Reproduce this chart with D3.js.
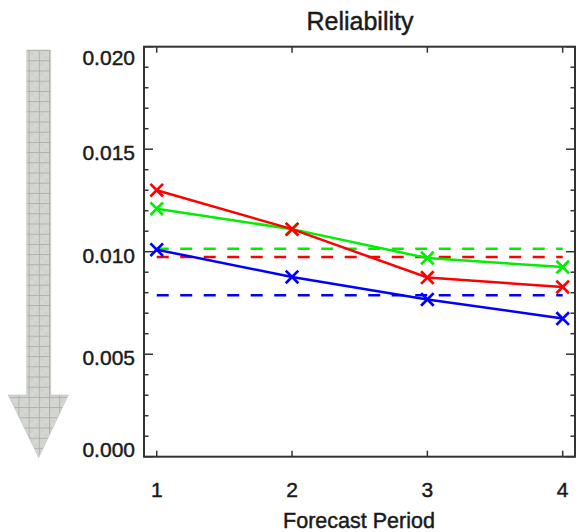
<!DOCTYPE html>
<html>
<head>
<meta charset="utf-8">
<script src="https://cdn.jsdelivr.net/npm/d3@7"></script>
<style>
  html, body { margin: 0; padding: 0; background: #ffffff; }
  svg { display: block; }
  text { font-family: "Liberation Sans", Arial, Helvetica, sans-serif; fill: #1a1a1a; stroke: #1a1a1a; stroke-width: 0.45px; }
</style>
</head>
<body>
<svg id="chart" width="577" height="532"></svg>
<script>
// ---- data ----
const periods = [1, 2, 3, 4];
const redValues = [0.0130, 0.0111, 0.00874, 0.00828];
const greenValues = [0.0121, 0.0111, 0.00969, 0.00925];
const blueValues = [0.0101, 0.00877, 0.00767, 0.00674];
const redReference = 0.00974;
const greenReference = 0.01015;
const blueReference = 0.00787;
const yTickValues = [0, 0.005, 0.010, 0.015, 0.020];
const yTickLabels = ["0.000", "0.005", "0.010", "0.015", "0.020"];
const xTickLabels = ["1", "2", "3", "4"];
const titleText = "Reliability";
const xAxisTitle = "Forecast Period";

const seriesList = [
  { name: "green", color: "#00ee00", values: greenValues, ref: greenReference },
  { name: "red", color: "#ff0000", values: redValues, ref: redReference },
  { name: "blue", color: "#0000ff", values: blueValues, ref: blueReference }
];

// ---- layout ----
const pLeft = 144, pRight = 575, pTop = 46.7, pBottom = 456.7;
const svg = d3.select("#chart");

const x = d3.scaleLinear().domain([0.906, 4.091]).range([pLeft, pRight]);
const y = d3.scaleLinear().domain([0, 0.02]).range([pBottom, pTop]);

// ---- decorative arrow ----
const defs = svg.append("defs");
const pat = defs.append("pattern")
  .attr("id", "grid").attr("patternUnits", "userSpaceOnUse")
  .attr("x", 38.8).attr("y", 386.7).attr("width", 10.2).attr("height", 10.2);
pat.append("rect").attr("width", 10.2).attr("height", 10.2).attr("fill", "#d5d7d2");
pat.append("rect").attr("x", 2).attr("y", 2).attr("width", 3).attr("height", 3).attr("fill", "#cfd1cc");
pat.append("rect").attr("x", 6).attr("y", 6).attr("width", 3).attr("height", 3).attr("fill", "#cfd1cc");
pat.append("line").attr("x1", 0.5).attr("x2", 0.5).attr("y1", 0).attr("y2", 10.2).attr("stroke", "#adafaa").attr("stroke-width", 1);
pat.append("line").attr("y1", 0.5).attr("y2", 0.5).attr("x1", 0).attr("x2", 10.2).attr("stroke", "#adafaa").attr("stroke-width", 1);

svg.append("path")
  .attr("d", "M26.7,50 L50.7,50 L50.7,395 L68.3,395 L38.7,457.7 L8.3,395 L26.7,395 Z")
  .attr("fill", "url(#grid)")
  .attr("stroke", "#c0c2bd").attr("stroke-width", 0.6);

// ---- title ----
svg.append("text").attr("x", 360).attr("y", 30).attr("text-anchor", "middle")
  .style("font-size", "25px").text(titleText);

// ---- reference dashed lines ----
seriesList.forEach(s => {
  svg.append("line")
    .attr("x1", x(periods[0])).attr("x2", x(periods[periods.length - 1]))
    .attr("y1", y(s.ref)).attr("y2", y(s.ref))
    .attr("stroke", s.color).attr("stroke-width", 2.5)
    .attr("stroke-dasharray", "12,11.5");
});

// ---- series lines and markers ----
const lineGen = d3.line().x((d, i) => x(periods[i])).y(d => y(d));
const ms = 6.3;
seriesList.forEach(s => {
  svg.append("path").attr("d", lineGen(s.values))
    .attr("fill", "none").attr("stroke", s.color).attr("stroke-width", 2.5);
  const g = svg.append("g");
  s.values.forEach((v, i) => {
    const cx = x(periods[i]), cy = y(v);
    g.append("path")
      .attr("d", `M${cx - ms},${cy - ms}L${cx + ms},${cy + ms}M${cx - ms},${cy + ms}L${cx + ms},${cy - ms}`)
      .attr("stroke", s.color).attr("stroke-width", 2.7).attr("fill", "none");
  });
});

// ---- frame and ticks ----
const axisColor = "#333333";
svg.append("rect").attr("x", pLeft).attr("y", pTop).attr("width", pRight - pLeft).attr("height", pBottom - pTop)
  .attr("fill", "none").attr("stroke", axisColor).attr("stroke-width", 2);

const minorTicks = d3.range(0, 0.0201, 0.001);
minorTicks.forEach(v => {
  const isMajor = yTickValues.some(t => Math.abs(t - v) < 1e-9);
  const len = isMajor ? 9 : 4.5;
  const yy = y(v);
  svg.append("line").attr("x1", pLeft).attr("x2", pLeft + len).attr("y1", yy).attr("y2", yy)
    .attr("stroke", axisColor).attr("stroke-width", 1.5);
  svg.append("line").attr("x1", pRight).attr("x2", pRight - len).attr("y1", yy).attr("y2", yy)
    .attr("stroke", axisColor).attr("stroke-width", 1.5);
});
periods.forEach(p => {
  const xx = x(p);
  svg.append("line").attr("x1", xx).attr("x2", xx).attr("y1", pBottom).attr("y2", pBottom - 6)
    .attr("stroke", axisColor).attr("stroke-width", 1.5);
  svg.append("line").attr("x1", xx).attr("x2", xx).attr("y1", pTop).attr("y2", pTop + 6)
    .attr("stroke", axisColor).attr("stroke-width", 1.5);
});

// ---- tick labels ----
yTickValues.forEach((v, i) => {
  let cy = y(v) + 3.3;
  cy = Math.max(pTop + 10.3, Math.min(pBottom - 7.4, cy));
  svg.append("text").attr("x", 135).attr("y", cy + 7.6).attr("text-anchor", "end")
    .style("font-size", "21px").text(yTickLabels[i]);
});
periods.forEach((p, i) => {
  svg.append("text").attr("x", x(p)).attr("y", 497.3).attr("text-anchor", "middle")
    .style("font-size", "21px").text(xTickLabels[i]);
});
svg.append("text").attr("x", 359).attr("y", 527.5).attr("text-anchor", "middle")
  .style("font-size", "21.5px").text(xAxisTitle);
</script>
</body>
</html>
